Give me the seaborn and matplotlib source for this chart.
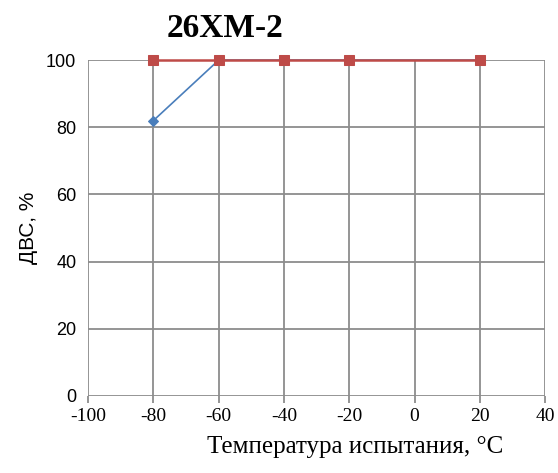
import pandas as pd
import numpy as np
import seaborn as sns
import matplotlib.pyplot as plt

sns.set_style('white')
plt.rcParams['text.color'] = 'black'
plt.rcParams['axes.labelcolor'] = 'black'
plt.rcParams['xtick.color'] = 'black'
plt.rcParams['ytick.color'] = 'black'

temps = [-80, -60, -40, -20, 20]
blue_vals = [82, 100, 100, 100, 100]
red_vals = [100, 100, 100, 100, 100]
x_ticks = [-100, -80, -60, -40, -20, 0, 20, 40]
y_ticks = [0, 20, 40, 60, 80, 100]

df = pd.DataFrame({'t': temps, 'blue': blue_vals, 'red': red_vals})

fig = plt.figure(figsize=(5.58, 4.73), dpi=100)
ax = fig.add_axes([0.158, 0.163, 0.819, 0.71])

grid_c = '#8c8c8c'
for v in x_ticks:
    ax.axvline(v, color=grid_c, lw=1.3, zorder=1)
for v in y_ticks:
    ax.axhline(v, color=grid_c, lw=1.3, zorder=1)

sns.lineplot(data=df, x='t', y='blue', ax=ax, color='#4a7ebb', lw=1.2,
             marker='D', markersize=5, markeredgecolor='#4a7ebb', zorder=3, clip_on=False)
sns.lineplot(data=df, x='t', y='red', ax=ax, color='#be4b48', lw=1.8,
             marker='s', markersize=7, markeredgecolor='#be4b48', zorder=4, clip_on=False)

ax.set_xlim(-100, 40)
ax.set_ylim(0, 100)
ax.set_xticks(x_ticks)
ax.set_yticks(y_ticks)
for s in ax.spines.values():
    s.set_visible(False)
ax.tick_params(axis='both', length=5, width=1.3, color=grid_c, direction='out',
               bottom=True, left=False, labelcolor='black')
ax.set_xticklabels([str(v) for v in x_ticks], fontsize=14, family='Liberation Serif')
ax.set_yticklabels([str(v) for v in y_ticks], fontsize=13, family='Liberation Sans')
ax.set_xlabel('Температура испытания, °С', fontsize=18, family='Liberation Serif')
ax.set_ylabel('ДВС, %', fontsize=15, family='Liberation Sans', labelpad=6)
ax.xaxis.set_label_coords(0.585, -0.12)

fig.text(0.403, 0.94, '26XM-2', fontsize=24, fontweight='bold',
         family='Liberation Serif', ha='center', va='center')

fig.savefig('out.png', dpi=100)
